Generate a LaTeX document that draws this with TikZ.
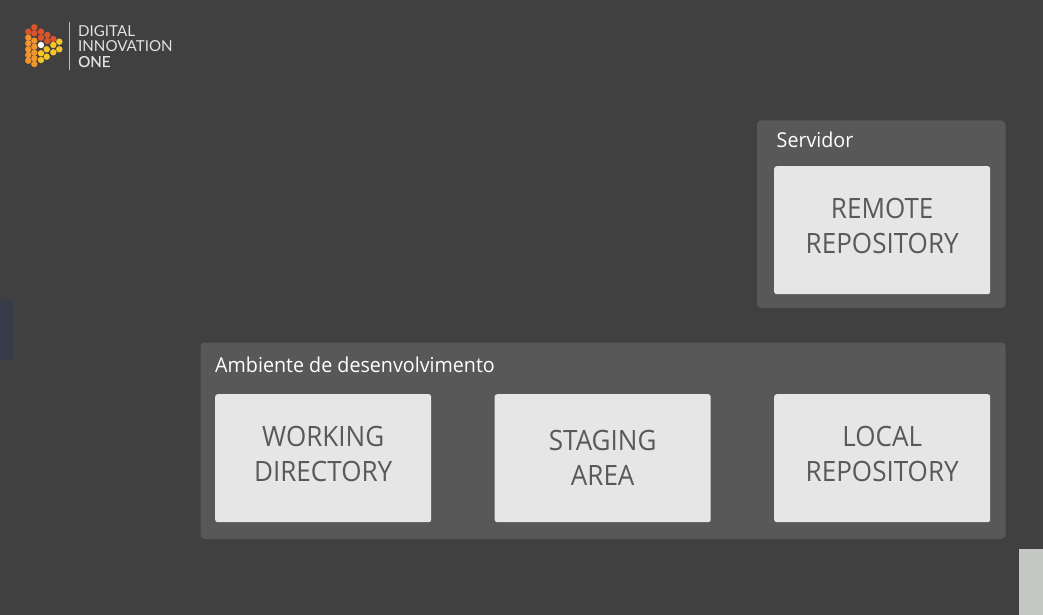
\documentclass[tikz,border=0pt]{standalone}
\usepackage{fontspec}
\setmainfont{Open Sans}
\newfontfamily\cardfont{Open Sans}[FakeStretch=0.93]
\newfontfamily\titlefont{Open Sans}[FakeStretch=0.96]
\newfontfamily\logofont{Lato}
\newfontfamily\logoheavy{Lato}[FakeBold=0.6]
\definecolor{bgc}{HTML}{404040}
\definecolor{panelc}{HTML}{585858}
\definecolor{cardc}{HTML}{E6E6E6}
\definecolor{inkc}{HTML}{595959}
\definecolor{redd}{HTML}{D9532B}
\definecolor{orad}{HTML}{F0962E}
\definecolor{yeld}{HTML}{F6C425}
\definecolor{edgeblue}{HTML}{373C48}
\definecolor{edgegray}{HTML}{C3C8C5}
\tikzset{
  x=1pt,y=-1pt,
  panel/.style={fill=panelc,draw=none,rounded corners=4pt},
  card/.style={fill=cardc,draw=none,rounded corners=2.5pt,anchor=north west,minimum width=216pt,minimum height=128pt,inner sep=0pt},
  cardtext/.style={inner sep=0pt,align=center,text=inkc,font=\cardfont\fontsize{28}{35.3}\selectfont,yshift=#1},
  cardtext/.default=4pt,
  paneltitle/.style={anchor=base west,inner sep=0pt,text=white,font=\titlefont\fontsize{20.5}{24}\selectfont},
  logotext/.style={anchor=base west,inner sep=0pt,text=white!85!bgc,font=\logofont\fontsize{15.1}{16}\selectfont},
  dot/.style={circle,fill=#1,draw=none,minimum size=6.4pt,inner sep=0pt}
}
\begin{document}
\begin{tikzpicture}
\useasboundingbox (0,0) rectangle (1043,615);
\fill[bgc] (0,0) rectangle (1043,615);
% clipped edge fragments
\fill[edgeblue] (0,300) rectangle (13,360);
\fill[edgegray] (1019,549) rectangle (1043,615);
% panels
\fill[panel] (757,120.5) rectangle (1005.5,308);
\fill[panel] (200.5,342.5) rectangle (1005.5,539);
\node[paneltitle] (servidor) at (776.5,147.5) {Servidor};
\node[paneltitle] (ambiente) at (215,372) {Ambiente de desenvolvimento};
\node[card,label={[cardtext]center:REMOTE\\REPOSITORY}] (remote) at (774,166) {};
\node[card,label={[cardtext]center:WORKING\\DIRECTORY}] (working) at (215,394) {};
\node[card,label={[cardtext=0pt]center:STAGING\\AREA}] (staging) at (494.5,394) {};
\node[card,label={[cardtext]center:LOCAL\\REPOSITORY}] (local) at (774,394) {};
% logo
\foreach \x/\y in {34.3/27.3,28.3/31.7,34.3/33.3,41/31.7,41/37.7,47.3/35,47.3/41,53.3/39}
  \node[dot=redd] at (\x,\y) {};
\foreach \x/\y in {28.3/37.7,28.3/43.3,28.3/49.3,28.3/55,28.3/60.7,34.3/40.7,34.3/46.7,34.3/52.7,34.3/58.3,34.3/64}
  \node[dot=orad] at (\x,\y) {};
\foreach \x/\y in {41/53.3,41/60,46.7/49.3,46.7/56.7,53.3/45,53.3/52.3,59.3/41.7,59.3/49.3}
  \node[dot=yeld] at (\x,\y) {};
\node[dot=white] at (41,45) {};
\draw[line width=0.9pt,color=white!65!bgc] (69.5,22) -- (69.5,70);
\node[logotext] (l1) at (78,37) {DIGITAL};
\node[logotext] (l2) at (78,52) {INNOVATION};
\node[logotext] (l3) at (78,67) {\logoheavy ONE};
\end{tikzpicture}
\end{document}
